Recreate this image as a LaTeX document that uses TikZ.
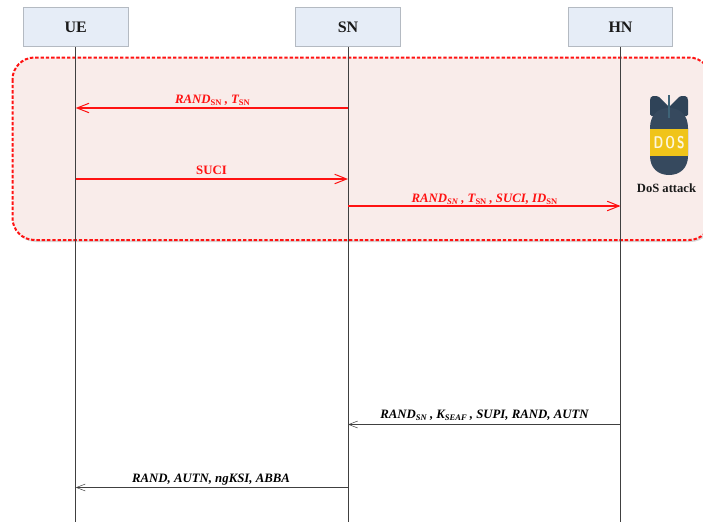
\documentclass[tikz,border=0pt]{standalone}
\usepackage{fontspec}
\setmainfont{Liberation Serif}
\usetikzlibrary{arrows.meta,shadows}
\definecolor{boxfill}{HTML}{E6EDF7}
\definecolor{boxline}{HTML}{B4BAC2}
\definecolor{zone}{HTML}{F9ECEA}
\definecolor{attack}{HTML}{FF1212}
\definecolor{bombdark}{HTML}{2F4358}
\definecolor{bombmid}{HTML}{36495E}
\definecolor{bombstem}{HTML}{3F6478}
\definecolor{bombband}{HTML}{F0C419}
\newcommand{\lsub}[1]{\raisebox{-0.35ex}{\fontsize{8.5}{8.5}\selectfont #1}}
\tikzset{
  party/.style={draw=boxline,line width=0.8pt,fill=boxfill,minimum width=104.5pt,minimum height=39pt,inner sep=0pt,font=\fontsize{16}{17}\selectfont\bfseries,text=black!90},
  lifeline/.style={draw=black!75,line width=0.8pt},
  attackmsg/.style={draw=attack,line width=1.4pt,-{Straight Barb[length=12pt,width=9.5pt,line width=1pt]}},
  plainmsg/.style={draw=black!75,line width=0.7pt,-{Straight Barb[length=9pt,width=7pt,line width=0.5pt]}},
  attacktext/.style={font=\fontsize{12.8}{14}\selectfont\bfseries\itshape,text=attack,inner sep=0pt,anchor=base},
  plaintext/.style={font=\fontsize{12.8}{14}\selectfont\bfseries\itshape,text=black,inner sep=0pt,anchor=base},
}
\begin{document}
\begin{tikzpicture}[x=1pt,y=-1pt]
\useasboundingbox (0,0) rectangle (703,522);
\begin{scope}
\clip (0,0) rectangle (703,522);
\draw[draw=attack,fill=zone,line width=2pt,dash pattern=on 3.4pt off 1.9pt,rounded corners=22pt,
      drop shadow={shadow xshift=1.5pt,shadow yshift=-2pt,opacity=0.3}]
  (12.5,57.5) rectangle (711,240);
\end{scope}
% parties
\node[party] (ue) at (75.7,27) {UE};
\node[party] (sn) at (348,27) {SN};
\node[party] (hn) at (620.5,27) {HN};
% lifeline ends
\coordinate (ueb) at (75.7,522);
\coordinate (snb) at (348,522);
\coordinate (hnb) at (620.5,522);
\draw[lifeline] (ue.south) -- (ueb);
\draw[lifeline] (sn.south) -- (snb);
\draw[lifeline] (hn.south) -- (hnb);
% message anchors
\coordinate (u1) at (75.7,108);  \coordinate (s1) at (348,108);
\coordinate (u2) at (75.7,179);  \coordinate (s2) at (348,179);
\coordinate (s3) at (348,206); \coordinate (h3) at (620.5,206);
\coordinate (s4) at (348,424.5); \coordinate (h4) at (620.5,424.5);
\coordinate (u5) at (75.7,487.5);\coordinate (s5) at (348,487.5);
\draw[attackmsg] (s1) -- (u1);
\draw[attackmsg] (u2) -- (s2);
\draw[attackmsg] (s3) -- (h3);
\draw[plainmsg] (h4) -- (s4);
\draw[plainmsg] (s5) -- (u5);
% labels
\node[attacktext] (l1) at (212.5,103) {RAND\lsub{\upshape SN} , T\lsub{\upshape SN}};
\node[attacktext,font=\fontsize{12.8}{14}\selectfont\bfseries] (l2) at (211.5,174) {SUCI};
\node[attacktext] (l3) at (484.5,202) {RAND\lsub{SN} , T\lsub{\upshape SN} , SUCI, ID\lsub{\upshape SN}};
\node[plaintext] (l4) at (484.5,418.5) {RAND\lsub{SN} , K\lsub{SEAF} , SUPI, RAND, AUTN};
\node[plaintext] (l5) at (211,482.5) {RAND, AUTN, ngKSI, ABBA};
% bomb
\fill[bombdark,rounded corners=1.5pt] (650,99) -- (651.5,96) -- (658,96) -- (669,107) -- (680,96) -- (686.5,96) -- (688,99) -- (688,116) -- (650,116) -- cycle;
\fill[bombmid] (650,128) .. controls (650,115) and (658,108) .. (669,108) .. controls (680,108) and (688,115) .. (688,128) -- (688,156) .. controls (688,168) and (680,175) .. (669,175) .. controls (658,175) and (650,168) .. (650,156) -- cycle;
\fill[bombstem] (667.7,95) rectangle (670.3,118);
\fill[bombband] (650,128.5) rectangle (688,156);
\node[inner sep=0pt,text=white!85!bombband,font=\fontsize{17}{17}\selectfont\sffamily\bfseries] (dos) at (669,142.5) {\scalebox{0.72}[1]{D\,O\,S}};
\node[inner sep=0pt,font=\fontsize{12.6}{14}\selectfont\bfseries,text=black!90] (doslabel) at (666.5,188.5) {DoS attack};
\end{tikzpicture}
\end{document}
